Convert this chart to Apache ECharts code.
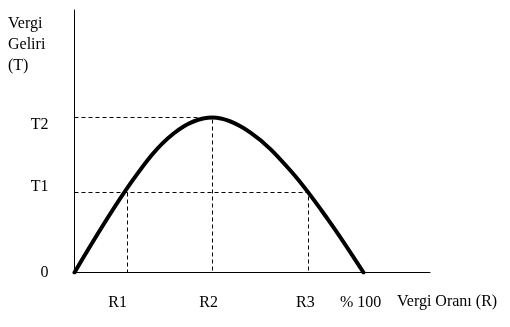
<!DOCTYPE html>
<html>
<head>
<meta charset="utf-8">
<script src="https://cdn.jsdelivr.net/npm/echarts@6/dist/echarts.min.js"></script>
<style>
html,body{margin:0;padding:0;background:#fff;}
#chart{width:510px;height:327px;}
</style>
</head>
<body>
<div id="chart"></div>
<script>
// Laffer curve: tax rate (x, 100 = %100) vs tax revenue (y, 100 = T2)
const curveX = [0, 20.1, 34.3, 47.75, 60.9, 74.7, 87.5, 100];
const curveY = [0, 59.4, 89.7, 100, 90.3, 65.8, 34.8, 0];
const rateNames = ['R1', 'R2', 'R3'];
const rateValues = [18.34, 47.75, 80.97];
const revenueNames = ['T1', 'T2'];
const revenueValues = [51.61, 100];
const xTickLabels = ['R1', 'R2', 'R3', '% 100'];
const xTickPos = [14.9, 46.4, 79.9, 99];
const yTickLabels = ['0', 'T1', 'T2'];
const yTickPos = [0, 55.5, 95.5];
const xAxisTitle = 'Vergi Oranı (R)';
const yAxisTitle = 'Vergi\nGeliri\n(T)';

const font = '"Liberation Serif", "Times New Roman", serif';
const dash = { color: '#000', width: 1, type: [4, 3] };

function dashSeries(points) {
  return { type: 'line', data: points, symbol: 'none', lineStyle: dash, silent: true, z: 1 };
}

const curve = curveX.map((x, i) => [x, curveY[i]]);
const T1 = revenueValues[0], T2 = revenueValues[1];
const R1 = rateValues[0], R2 = rateValues[1], R3 = rateValues[2];

const chart = echarts.init(document.getElementById('chart'), null, { renderer: 'canvas' });
chart.setOption({
  animation: false,
  backgroundColor: '#fff',
  grid: { left: 74.5, top: 10, right: 80, bottom: 54.5, containLabel: false },
  xAxis: {
    type: 'value', min: 0, max: 123.01,
    splitLine: { show: false },
    axisLine: { show: true, onZero: false, lineStyle: { color: '#000', width: 1 } },
    axisTick: { show: false },
    axisLabel: {
      customValues: xTickPos, margin: 22, color: '#000', fontFamily: font, fontSize: 16,
      formatter: v => xTickLabels[xTickPos.indexOf(v)] || ''
    }
  },
  yAxis: {
    type: 'value', min: 0, max: 169.35,
    splitLine: { show: false },
    axisLine: { show: true, onZero: false, lineStyle: { color: '#000', width: 1 } },
    axisTick: { show: false },
    axisLabel: {
      customValues: yTickPos, margin: 26, color: '#000', fontFamily: font, fontSize: 16,
      formatter: v => yTickLabels[yTickPos.indexOf(v)] || ''
    }
  },
  graphic: [
    { type: 'text', left: 8, top: 13, style: { text: yAxisTitle, font: '16px ' + font, fill: '#000', lineHeight: 21 } },
    { type: 'text', left: 397, top: 294, style: { text: xAxisTitle, font: '16px ' + font, fill: '#000' } }
  ],
  series: [
    dashSeries([[0, T2], [R2, T2], [R2, 0]]),
    dashSeries([[0, T1], [R3, T1], [R3, 0]]),
    dashSeries([[R1, T1], [R1, 0]]),
    {
      type: 'line', data: curve, smooth: 0.35, symbol: 'none', z: 3,
      lineStyle: { color: '#000', width: 4, cap: 'round' }
    }
  ]
});
</script>
</body>
</html>
